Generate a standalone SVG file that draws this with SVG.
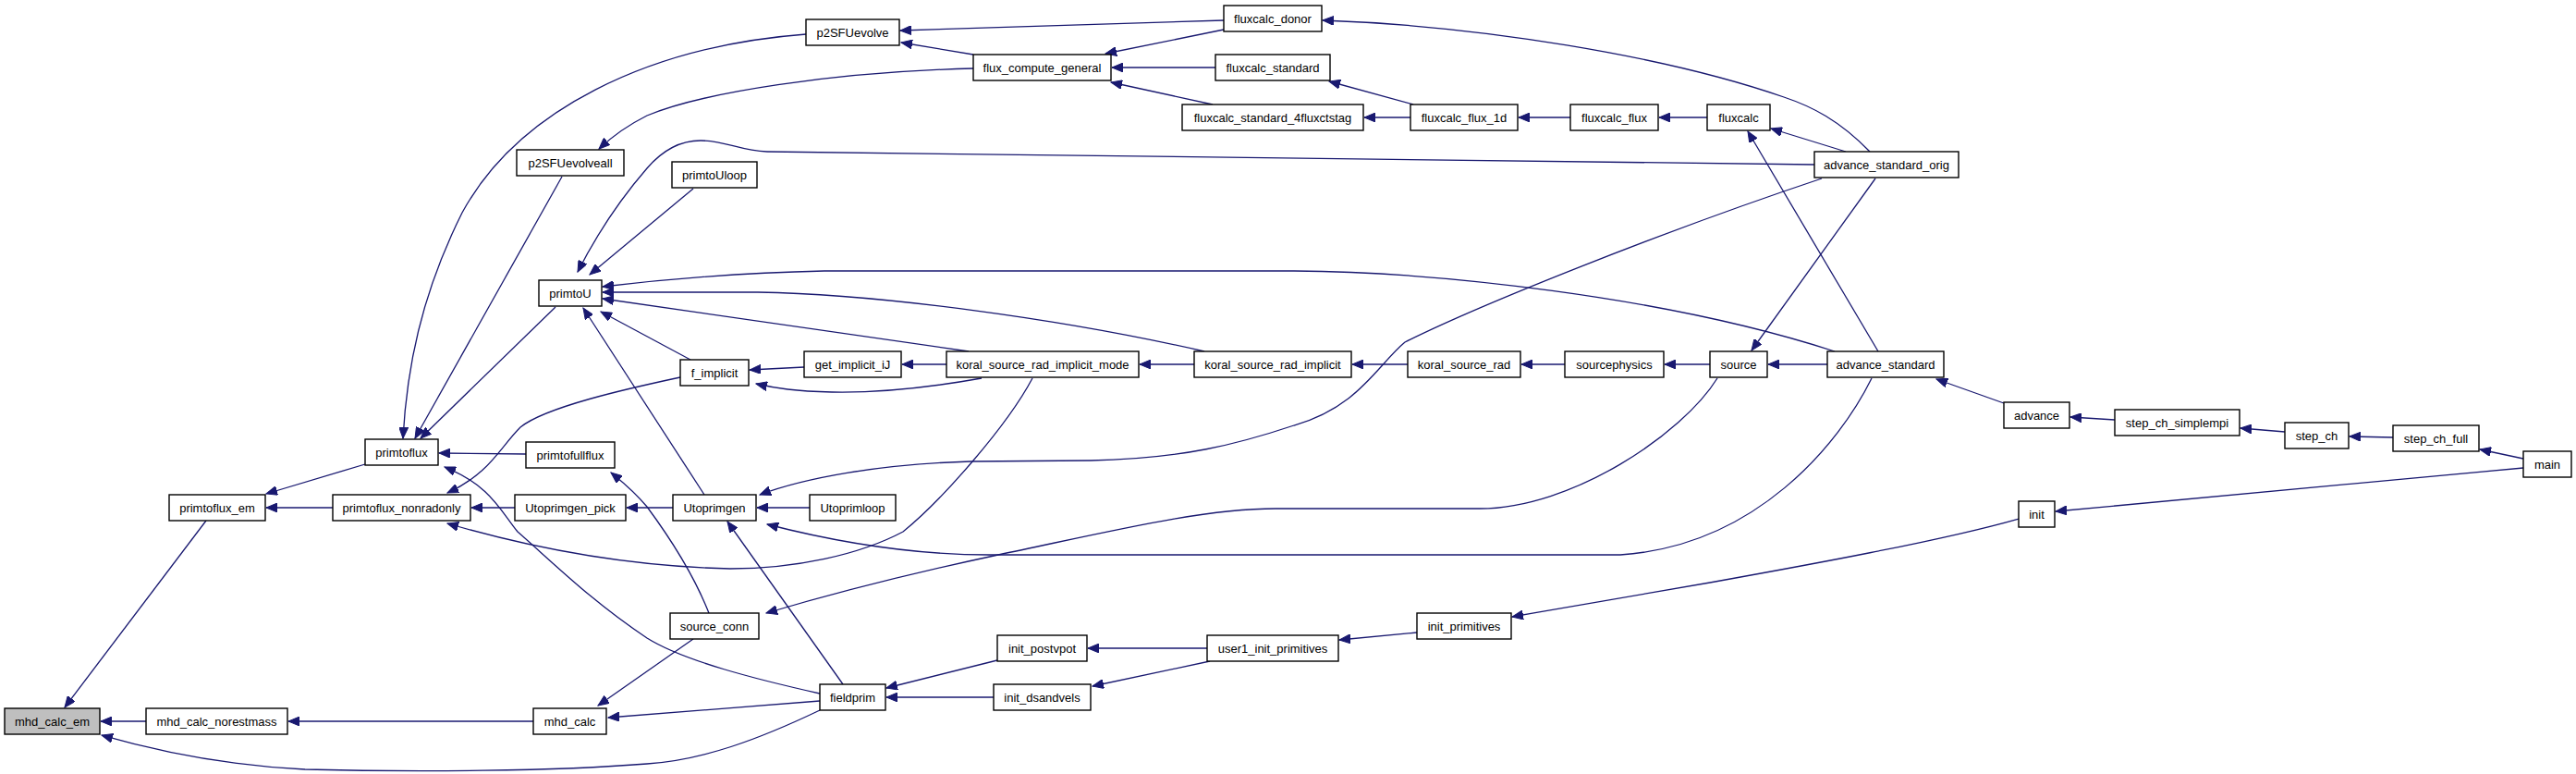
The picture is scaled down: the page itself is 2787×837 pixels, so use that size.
<svg xmlns="http://www.w3.org/2000/svg" width="2787" height="837" viewBox="0 0 2787 837">
<defs>
<style>
.n rect{fill:#fff;stroke:#000;stroke-width:1.4}
.n.g rect{fill:#bfbfbf}
.n text{font-family:"Liberation Sans",Arial,sans-serif;font-size:13px;text-anchor:middle;fill:#000}
#edges path{fill:none;stroke:#191970;stroke-width:1.3;marker-end:url(#ah)}
</style>
<marker id="ah" markerUnits="userSpaceOnUse" markerWidth="13" markerHeight="10" refX="12" refY="5" orient="auto" viewBox="0 0 13 10"><path d="M0,0 L12,5 L0,10 z" fill="#191970" stroke="#191970" stroke-width="1"/></marker>
</defs>
<rect width="2787" height="837" fill="#fff"/>
<g id="edges">
<path d="M158,780 L109,780"/>
<path d="M223,563 L70,765"/>
<path d="M887,768 C820,800 760,822 700,826 C600,834 450,835 330,832 C250,828 180,815 110,795"/>
<path d="M577,780 L312,780"/>
<path d="M395,502 L288,534"/>
<path d="M360,549 L288,549"/>
<path d="M569,491 L475,490"/>
<path d="M872,37 C700,50 560,120 500,230 C455,320 440,400 436,474"/>
<path d="M608,191 L449,474"/>
<path d="M601,332 L455,474"/>
<path d="M887,750 C820,735 740,715 700,690 C640,650 600,610 560,575 C540,550 530,525 481,505"/>
<path d="M557,549 L510,549"/>
<path d="M736,408 C680,420 590,440 563,462 C540,485 530,512 484,533"/>
<path d="M1117,409 C1090,460 1020,540 977,575 C930,600 860,615 790,615 C700,613 600,600 484,566"/>
<path d="M728,549 L678,549"/>
<path d="M767,663 C750,620 720,575 700,548 C685,530 672,520 661,511"/>
<path d="M762,535 L631,333"/>
<path d="M1963,178 L830,164 C800,163 785,152 758,152 C730,152 712,168 700,182 C680,205 650,245 625,294"/>
<path d="M750,204 L638,297"/>
<path d="M1985,380 C1800,320 1550,294 1400,293 L892,293 C800,295 720,302 652,310"/>
<path d="M1303,380 C1150,345 950,318 820,316 L652,316"/>
<path d="M1048,380 L652,323"/>
<path d="M747,389 L650,337"/>
<path d="M1324,22 L974,33"/>
<path d="M1053,59 L975,46"/>
<path d="M1324,32 L1196,58"/>
<path d="M1315,73 L1203,73"/>
<path d="M1312,113 L1202,89"/>
<path d="M1053,74 C900,78 760,100 700,125 C680,135 665,145 648,161"/>
<path d="M1529,113 L1438,88"/>
<path d="M1526,127 L1476,127"/>
<path d="M1699,127 L1643,127"/>
<path d="M1847,127 L1795,127"/>
<path d="M1997,164 L1916,139"/>
<path d="M2032,380 L1891,142"/>
<path d="M2023,164 C1990,130 1960,115 1930,105 C1800,60 1600,28 1431,22"/>
<path d="M2029,193 L1895,379"/>
<path d="M1971,193 C1800,250 1600,330 1520,370 C1490,395 1470,440 1400,460 C1340,480 1280,496 1180,498 L1050,499 C950,502 870,517 822,535"/>
<path d="M2025,409 C1990,480 1900,590 1753,600 L1070,600 C980,600 900,585 830,567"/>
<path d="M1858,409 C1820,470 1700,550 1601,550 L1380,550 C1300,550 1200,575 1080,600 C1000,617 900,642 829,663"/>
<path d="M750,691 L647,763"/>
<path d="M887,758 L658,776"/>
<path d="M912,740 L787,564"/>
<path d="M876,549 L819,549"/>
<path d="M1079,714 L959,744"/>
<path d="M1075,754 L959,754"/>
<path d="M1306,701 L1177,701"/>
<path d="M1309,715 L1182,742"/>
<path d="M1533,684 L1449,692"/>
<path d="M2184,561 C2100,585 1950,612 1850,630 C1760,645 1700,656 1636,667"/>
<path d="M2730,506 L2224,553"/>
<path d="M2730,496 L2683,486"/>
<path d="M2589,473 L2542,472"/>
<path d="M2472,467 L2424,463"/>
<path d="M2288,454 L2240,451"/>
<path d="M2168,436 L2095,410"/>
<path d="M1977,394 L1913,394"/>
<path d="M1850,394 L1801,394"/>
<path d="M1693,394 L1646,394"/>
<path d="M1523,394 L1463,394"/>
<path d="M1292,394 L1233,394"/>
<path d="M1024,394 L976,394"/>
<path d="M870,397 L811,400"/>
<path d="M1062,409 C1000,420 950,425 900,424 C860,423 840,420 818,415"/>
</g>
<g id="mhd_calc_em" class="n g"><rect x="5" y="766" width="103" height="28"/><text x="56.5" y="784.5">mhd_calc_em</text></g>
<g id="mhd_calc_norestmass" class="n"><rect x="158" y="766" width="153" height="28"/><text x="234.5" y="784.5">mhd_calc_norestmass</text></g>
<g id="mhd_calc" class="n"><rect x="577" y="766" width="79" height="28"/><text x="616.5" y="784.5">mhd_calc</text></g>
<g id="primtoflux_em" class="n"><rect x="183" y="535" width="104" height="28"/><text x="235" y="553.5">primtoflux_em</text></g>
<g id="primtoflux" class="n"><rect x="395" y="475" width="79" height="28"/><text x="434.5" y="493.5">primtoflux</text></g>
<g id="primtofullflux" class="n"><rect x="569" y="478" width="96" height="28"/><text x="617" y="496.5">primtofullflux</text></g>
<g id="primtoflux_nonradonly" class="n"><rect x="360" y="535" width="149" height="28"/><text x="434.5" y="553.5">primtoflux_nonradonly</text></g>
<g id="Utoprimgen_pick" class="n"><rect x="557" y="535" width="120" height="28"/><text x="617" y="553.5">Utoprimgen_pick</text></g>
<g id="p2SFUevolveall" class="n"><rect x="559" y="162" width="116" height="28"/><text x="617" y="180.5">p2SFUevolveall</text></g>
<g id="primtoU" class="n"><rect x="583" y="303" width="68" height="28"/><text x="617" y="321.5">primtoU</text></g>
<g id="p2SFUevolve" class="n"><rect x="872" y="21" width="101" height="28"/><text x="922.5" y="39.5">p2SFUevolve</text></g>
<g id="flux_compute_general" class="n"><rect x="1053" y="59" width="149" height="28"/><text x="1127.5" y="77.5">flux_compute_general</text></g>
<g id="fluxcalc_donor" class="n"><rect x="1324" y="6" width="106" height="28"/><text x="1377" y="24.5">fluxcalc_donor</text></g>
<g id="fluxcalc_standard" class="n"><rect x="1315" y="59" width="124" height="28"/><text x="1377" y="77.5">fluxcalc_standard</text></g>
<g id="fluxcalc_standard_4fluxctstag" class="n"><rect x="1279" y="113" width="196" height="28"/><text x="1377" y="131.5">fluxcalc_standard_4fluxctstag</text></g>
<g id="primtoUloop" class="n"><rect x="727" y="175" width="92" height="28"/><text x="773" y="193.5">primtoUloop</text></g>
<g id="f_implicit" class="n"><rect x="736" y="389" width="74" height="28"/><text x="773" y="407.5">f_implicit</text></g>
<g id="get_implicit_iJ" class="n"><rect x="870" y="380" width="105" height="28"/><text x="922.5" y="398.5">get_implicit_iJ</text></g>
<g id="koral_source_rad_implicit_mode" class="n"><rect x="1024" y="380" width="208" height="28"/><text x="1128" y="398.5">koral_source_rad_implicit_mode</text></g>
<g id="koral_source_rad_implicit" class="n"><rect x="1292" y="380" width="170" height="28"/><text x="1377" y="398.5">koral_source_rad_implicit</text></g>
<g id="koral_source_rad" class="n"><rect x="1523" y="380" width="122" height="28"/><text x="1584" y="398.5">koral_source_rad</text></g>
<g id="sourcephysics" class="n"><rect x="1693" y="380" width="107" height="28"/><text x="1746.5" y="398.5">sourcephysics</text></g>
<g id="source" class="n"><rect x="1850" y="380" width="62" height="28"/><text x="1881" y="398.5">source</text></g>
<g id="advance_standard" class="n"><rect x="1977" y="380" width="126" height="28"/><text x="2040" y="398.5">advance_standard</text></g>
<g id="fluxcalc_flux_1d" class="n"><rect x="1526" y="113" width="116" height="28"/><text x="1584" y="131.5">fluxcalc_flux_1d</text></g>
<g id="fluxcalc_flux" class="n"><rect x="1699" y="113" width="95" height="28"/><text x="1746.5" y="131.5">fluxcalc_flux</text></g>
<g id="fluxcalc" class="n"><rect x="1847" y="113" width="68" height="28"/><text x="1881" y="131.5">fluxcalc</text></g>
<g id="advance_standard_orig" class="n"><rect x="1963" y="164" width="156" height="28"/><text x="2041" y="182.5">advance_standard_orig</text></g>
<g id="Utoprimgen" class="n"><rect x="728" y="535" width="90" height="28"/><text x="773" y="553.5">Utoprimgen</text></g>
<g id="Utoprimloop" class="n"><rect x="876" y="535" width="93" height="28"/><text x="922.5" y="553.5">Utoprimloop</text></g>
<g id="source_conn" class="n"><rect x="725" y="663" width="96" height="28"/><text x="773" y="681.5">source_conn</text></g>
<g id="fieldprim" class="n"><rect x="887" y="740" width="71" height="28"/><text x="922.5" y="758.5">fieldprim</text></g>
<g id="init_postvpot" class="n"><rect x="1079" y="687" width="97" height="28"/><text x="1127.5" y="705.5">init_postvpot</text></g>
<g id="init_dsandvels" class="n"><rect x="1075" y="740" width="105" height="28"/><text x="1127.5" y="758.5">init_dsandvels</text></g>
<g id="user1_init_primitives" class="n"><rect x="1306" y="687" width="142" height="28"/><text x="1377" y="705.5">user1_init_primitives</text></g>
<g id="init_primitives" class="n"><rect x="1533" y="663" width="102" height="28"/><text x="1584" y="681.5">init_primitives</text></g>
<g id="advance" class="n"><rect x="2168" y="435" width="71" height="28"/><text x="2203.5" y="453.5">advance</text></g>
<g id="step_ch_simplempi" class="n"><rect x="2288" y="443" width="135" height="28"/><text x="2355.5" y="461.5">step_ch_simplempi</text></g>
<g id="step_ch" class="n"><rect x="2472" y="457" width="69" height="28"/><text x="2506.5" y="475.5">step_ch</text></g>
<g id="step_ch_full" class="n"><rect x="2589" y="460" width="93" height="28"/><text x="2635.5" y="478.5">step_ch_full</text></g>
<g id="main" class="n"><rect x="2730" y="488" width="52" height="28"/><text x="2756" y="506.5">main</text></g>
<g id="init" class="n"><rect x="2184" y="542" width="39" height="28"/><text x="2203.5" y="560.5">init</text></g>
</svg>
